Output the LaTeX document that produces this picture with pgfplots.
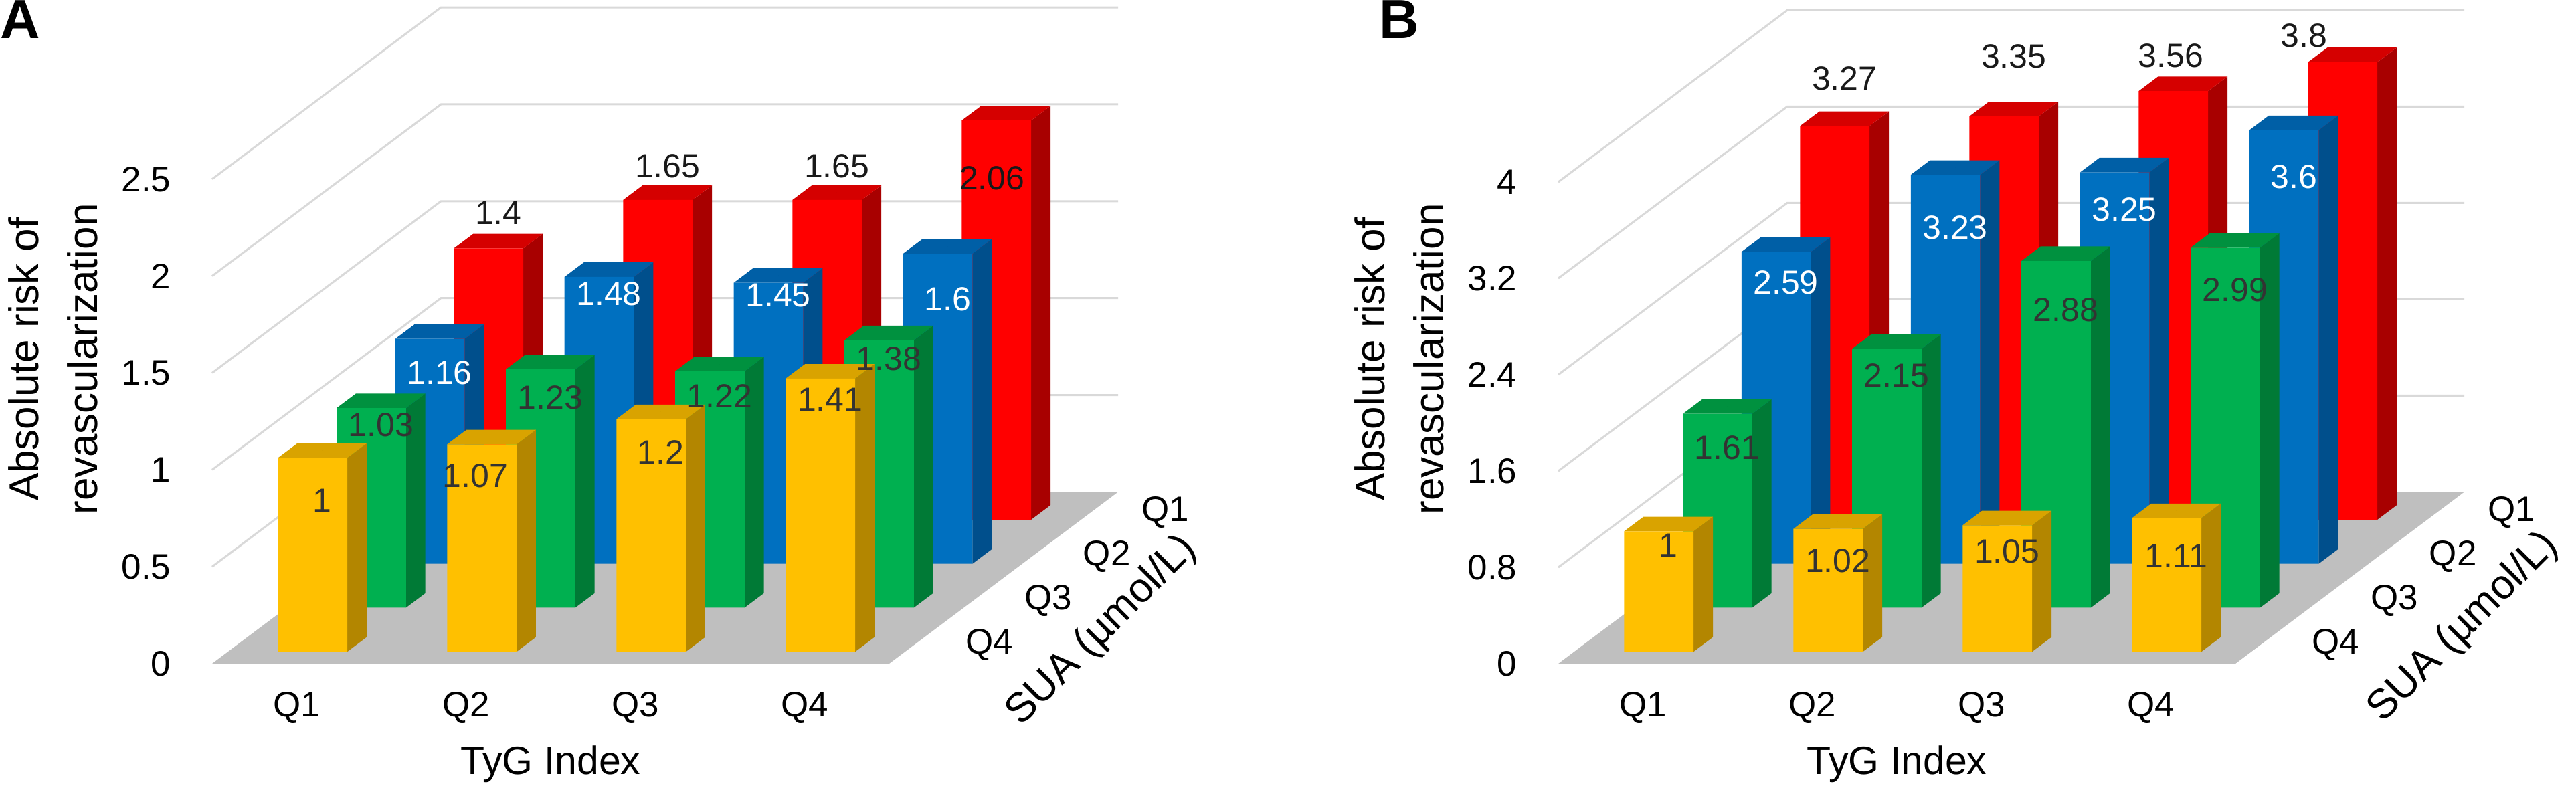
\documentclass[border=0pt]{standalone}
\usepackage{fontspec}
\setmainfont{Liberation Sans}
\usepackage{pgfplots}
\usepackage{pgfplotstable}
\pgfplotsset{compat=1.18}

\definecolor{yF}{HTML}{FFC000}\definecolor{yT}{HTML}{D9A300}\definecolor{yS}{HTML}{B38600}
\definecolor{gF}{HTML}{00B050}\definecolor{gT}{HTML}{00913F}\definecolor{gS}{HTML}{007A36}
\definecolor{bF}{HTML}{0070C0}\definecolor{bT}{HTML}{005FA6}\definecolor{bS}{HTML}{004F8C}
\definecolor{rF}{HTML}{FF0000}\definecolor{rT}{HTML}{D50000}\definecolor{rS}{HTML}{A80000}
\definecolor{floorc}{HTML}{BFBFBF}
\definecolor{gridc}{HTML}{D9D9D9}
\definecolor{labdark}{HTML}{333333}

\newcommand\tickfont{\fontsize{10.6}{12}\selectfont}
\newcommand\datafont{\fontsize{10}{12}\selectfont}
\newcommand\titlefont{\fontsize{11.8}{14}\selectfont}
\newcommand\suafont{\fontsize{12.4}{14}\selectfont}
\newcommand\ylabfont{\fontsize{12.4}{17.6}\selectfont}

% bar: x centre, row (0 = front), value, colour prefix
\newcommand{\cuboid}[4]{%
  \pgfmathsetmacro{\xa}{#1-0.205}%
  \pgfmathsetmacro{\xb}{#1+0.205}%
  \pgfmathsetmacro{\da}{#2+0.27}%
  \pgfmathsetmacro{\db}{#2+0.60}%
  \addplot3[draw=none, fill=#4S] coordinates {(\xb,\da,0) (\xb,\db,0) (\xb,\db,#3) (\xb,\da,#3) (\xb,\da,0)};
  \addplot3[draw=none, fill=#4T] coordinates {(\xa,\da,#3) (\xb,\da,#3) (\xb,\db,#3) (\xa,\db,#3) (\xa,\da,#3)};
  \addplot3[draw=none, fill=#4F] coordinates {(\xa,\da,0) (\xb,\da,0) (\xb,\da,#3) (\xa,\da,#3) (\xa,\da,0)};
}

\pgfplotsset{
  chart3d/.style={
    anchor=origin,
    x={(50.6pt,0pt)}, y={(17.54pt,13.16pt)},
    xmin=-0.5, xmax=3.5, ymin=0, ymax=3.9, zmin=0,
    hide axis, clip=false,
  },
  lbl/.style={only marks, mark=*, mark size=0pt, mark options={draw=none, fill=none},
    nodes near coords, point meta=explicit symbolic},
  datalbl/.style={lbl, visualization depends on={\thisrow{sh}\as\myshift},
    every node near coord/.append style={anchor=center, inner sep=0pt, yshift=\myshift pt, font=\datafont, text=#1}},
  gridln/.style={draw=gridc, line width=0.6pt, mark=none},
}

% data labels: label x position, depth of top centre, value, vertical shift (pt), text
\pgfplotstableread{
x d v sh lab
0 3.435 1.40 8.4 1.4
1 3.435 1.65 8.0 1.65
2 3.435 1.65 8.0 1.65
2.917 3.435 2.06 -19.4 2.06
}\Ared
\pgfplotstableread{
x d v sh lab
0 2.435 1.16 -12.4 1.16
1 2.435 1.48 -7.2 1.48
2 2.435 1.45 -6.0 1.45
3 2.435 1.60 -15.8 1.6
}\Ablue
\pgfplotstableread{
x d v sh lab
0 1.435 1.03 -7.2 1.03
1 1.435 1.23 -10.6 1.23
2 1.435 1.22 -9.6 1.22
3 1.435 1.38 -7.6 1.38
}\Agreen
\pgfplotstableread{
x d v sh lab
0 0.435 1.00 -15.0 1
0.905 0.435 1.07 -11.6 1.07
2 0.435 1.20 -12.0 1.2
3 0.435 1.41 -8.4 1.41
}\Ayellow

\pgfplotstableread{
x d v sh lab
0 3.435 3.27 12.0 3.27
1 3.435 3.35 15.8 3.35
1.928 3.435 3.56 8.4 3.56
2.715 3.435 3.80 5.8 3.8
}\Bred
\pgfplotstableread{
x d v sh lab
0 2.435 2.59 -11.4 2.59
1 2.435 3.23 -18.0 3.23
2 2.435 3.25 -13.2 3.25
3 2.435 3.60 -16.0 3.6
}\Bblue
\pgfplotstableread{
x d v sh lab
0 1.435 1.61 -12.2 1.61
1 1.435 2.15 -10.2 2.15
2 1.435 2.88 -16.8 2.88
3 1.435 2.99 -14.8 2.99
}\Bgreen
\pgfplotstableread{
x d v sh lab
0 0.435 1.00 -6.4 1
1 0.435 1.02 -11.6 1.02
2 0.435 1.05 -10.0 1.05
3 0.435 1.11 -13.6 1.11
}\Byellow

\begin{document}
\begin{tikzpicture}

% ---------------- Panel A ----------------
\begin{axis}[chart3d, at={(88.7pt,-198.4pt)}, z={(0pt,57.94pt)}, zmax=2.5]
  \addplot3[gridln] coordinates {(-0.5,0,0.5) (-0.5,3.9,0.5) (3.5,3.9,0.5)};
  \addplot3[gridln] coordinates {(-0.5,0,1) (-0.5,3.9,1) (3.5,3.9,1)};
  \addplot3[gridln] coordinates {(-0.5,0,1.5) (-0.5,3.9,1.5) (3.5,3.9,1.5)};
  \addplot3[gridln] coordinates {(-0.5,0,2) (-0.5,3.9,2) (3.5,3.9,2)};
  \addplot3[gridln] coordinates {(-0.5,0,2.5) (-0.5,3.9,2.5) (3.5,3.9,2.5)};
  \addplot3[draw=none, fill=floorc] coordinates {(-0.5,0,0) (3.5,0,0) (3.5,3.9,0) (-0.5,3.9,0) (-0.5,0,0)};
  % SUA Q1 (red, back row)
  \cuboid{0}{3}{1.40}{r}\cuboid{1}{3}{1.65}{r}\cuboid{2}{3}{1.65}{r}\cuboid{3}{3}{2.06}{r}
  % SUA Q2 (blue)
  \cuboid{0}{2}{1.16}{b}\cuboid{1}{2}{1.48}{b}\cuboid{2}{2}{1.45}{b}\cuboid{3}{2}{1.60}{b}
  % SUA Q3 (green)
  \cuboid{0}{1}{1.03}{g}\cuboid{1}{1}{1.23}{g}\cuboid{2}{1}{1.22}{g}\cuboid{3}{1}{1.38}{g}
  % SUA Q4 (yellow, front row)
  \cuboid{0}{0}{1.00}{y}\cuboid{1}{0}{1.07}{y}\cuboid{2}{0}{1.20}{y}\cuboid{3}{0}{1.41}{y}
  % data labels
  \addplot3[datalbl=black!90] table[x=x, y=d, z=v, meta=lab] {\Ared};
  \addplot3[datalbl=white] table[x=x, y=d, z=v, meta=lab] {\Ablue};
  \addplot3[datalbl=labdark] table[x=x, y=d, z=v, meta=lab] {\Agreen};
  \addplot3[datalbl=labdark] table[x=x, y=d, z=v, meta=lab] {\Ayellow};
  % tick labels
  \addplot3[lbl, every node near coord/.append style={anchor=east, xshift=-8.8pt, font=\tickfont}]
    coordinates {(-0.5,0,0) [0] (-0.5,0,0.5) [0.5] (-0.5,0,1) [1] (-0.5,0,1.5) [1.5] (-0.5,0,2) [2] (-0.5,0,2.5) [2.5]};
  \addplot3[lbl, every node near coord/.append style={anchor=center, yshift=-13.2pt, font=\tickfont}]
    coordinates {(0,0,0) [Q1] (1,0,0) [Q2] (2,0,0) [Q3] (3,0,0) [Q4]};
  \addplot3[lbl, every node near coord/.append style={anchor=west, xshift=11.8pt, font=\tickfont}]
    coordinates {(3.5,0.43,0) [Q4] (3.5,1.43,0) [Q3] (3.5,2.43,0) [Q2] (3.5,3.43,0) [Q1]};
  \node[font=\titlefont] at (axis cs:1.5,0,0) [yshift=-30pt] {TyG Index};
\end{axis}

% ---------------- Panel B ----------------
\begin{axis}[chart3d, at={(491.1pt,-198.4pt)}, z={(0pt,36pt)}, zmax=4]
  \addplot3[gridln] coordinates {(-0.5,0,0.8) (-0.5,3.9,0.8) (3.5,3.9,0.8)};
  \addplot3[gridln] coordinates {(-0.5,0,1.6) (-0.5,3.9,1.6) (3.5,3.9,1.6)};
  \addplot3[gridln] coordinates {(-0.5,0,2.4) (-0.5,3.9,2.4) (3.5,3.9,2.4)};
  \addplot3[gridln] coordinates {(-0.5,0,3.2) (-0.5,3.9,3.2) (3.5,3.9,3.2)};
  \addplot3[gridln] coordinates {(-0.5,0,4) (-0.5,3.9,4) (3.5,3.9,4)};
  \addplot3[draw=none, fill=floorc] coordinates {(-0.5,0,0) (3.5,0,0) (3.5,3.9,0) (-0.5,3.9,0) (-0.5,0,0)};
  \cuboid{0}{3}{3.27}{r}\cuboid{1}{3}{3.35}{r}\cuboid{2}{3}{3.56}{r}\cuboid{3}{3}{3.80}{r}
  \cuboid{0}{2}{2.59}{b}\cuboid{1}{2}{3.23}{b}\cuboid{2}{2}{3.25}{b}\cuboid{3}{2}{3.60}{b}
  \cuboid{0}{1}{1.61}{g}\cuboid{1}{1}{2.15}{g}\cuboid{2}{1}{2.88}{g}\cuboid{3}{1}{2.99}{g}
  \cuboid{0}{0}{1.00}{y}\cuboid{1}{0}{1.02}{y}\cuboid{2}{0}{1.05}{y}\cuboid{3}{0}{1.11}{y}
  \addplot3[datalbl=black!90] table[x=x, y=d, z=v, meta=lab] {\Bred};
  \addplot3[datalbl=white] table[x=x, y=d, z=v, meta=lab] {\Bblue};
  \addplot3[datalbl=labdark] table[x=x, y=d, z=v, meta=lab] {\Bgreen};
  \addplot3[datalbl=labdark] table[x=x, y=d, z=v, meta=lab] {\Byellow};
  \addplot3[lbl, every node near coord/.append style={anchor=east, xshift=-8.8pt, font=\tickfont}]
    coordinates {(-0.5,0,0) [0] (-0.5,0,0.8) [0.8] (-0.5,0,1.6) [1.6] (-0.5,0,2.4) [2.4] (-0.5,0,3.2) [3.2] (-0.5,0,4) [4]};
  \addplot3[lbl, every node near coord/.append style={anchor=center, yshift=-13.2pt, font=\tickfont}]
    coordinates {(0,0,0) [Q1] (1,0,0) [Q2] (2,0,0) [Q3] (3,0,0) [Q4]};
  \addplot3[lbl, every node near coord/.append style={anchor=west, xshift=11.8pt, font=\tickfont}]
    coordinates {(3.5,0.43,0) [Q4] (3.5,1.43,0) [Q3] (3.5,2.43,0) [Q2] (3.5,3.43,0) [Q1]};
  \node[font=\titlefont] at (axis cs:1.5,0,0) [yshift=-30pt] {TyG Index};
\end{axis}

% axis titles and panel letters
\node[rotate=90, align=center, font=\ylabfont] at (15.8pt,-107.4pt) {Absolute risk of\\revascularization};
\node[rotate=90, align=center, font=\ylabfont] at (418.2pt,-107.4pt) {Absolute risk of\\revascularization};
\node[rotate=45, font=\suafont, inner sep=0pt] at (329.4pt,-188.6pt) {SUA (µmol/L)};
\node[rotate=45, font=\suafont, inner sep=0pt] at (736.4pt,-187.6pt) {SUA (µmol/L)};
\node[anchor=north west, inner sep=0pt, font=\fontsize{16.5}{18}\selectfont\bfseries] at (0pt,0pt) {A};
\node[anchor=north west, inner sep=0pt, font=\fontsize{16.5}{18}\selectfont\bfseries] at (412pt,0pt) {B};

\pgfresetboundingbox
\path[use as bounding box] (0pt,0pt) rectangle (770pt,-236.6pt);
\end{tikzpicture}
\end{document}
